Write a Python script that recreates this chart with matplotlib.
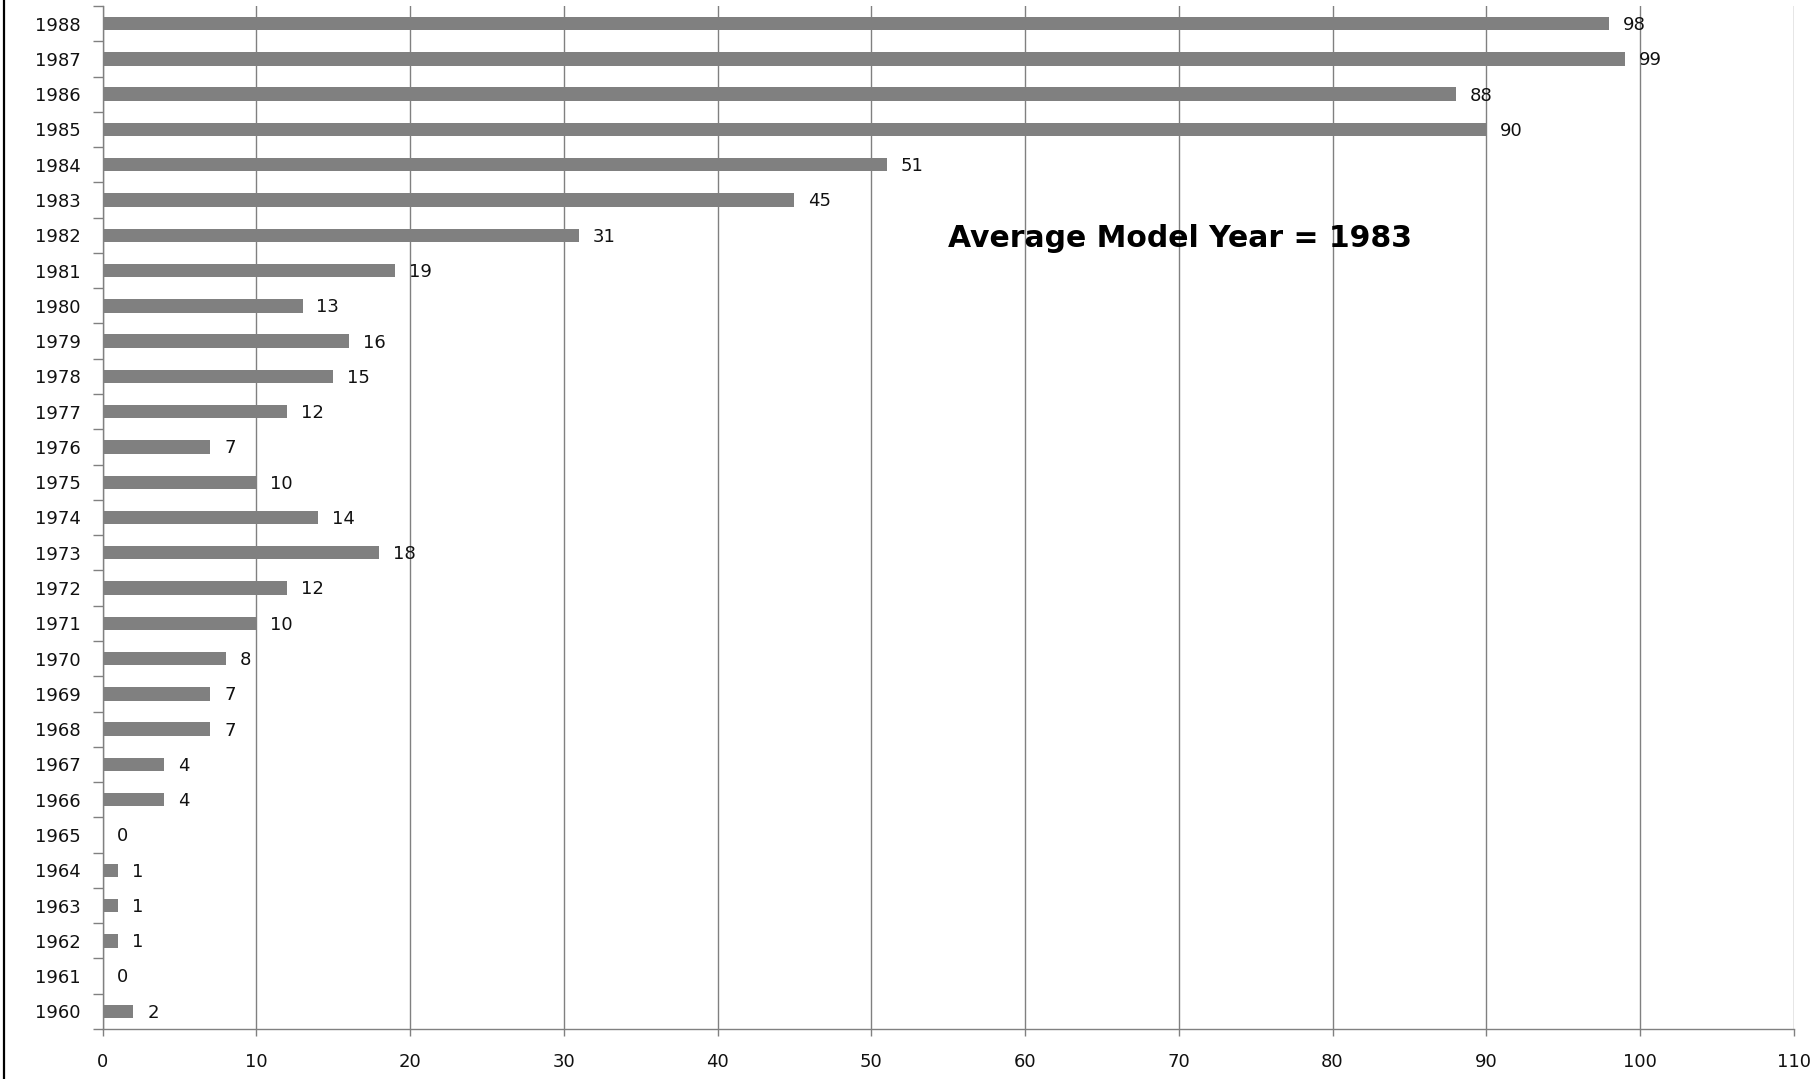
import matplotlib.pyplot as plt
import numpy as np
from matplotlib.lines import Line2D

years = list(range(1960, 1989))
counts = [2, 0, 1, 1, 1, 0, 4, 4, 7, 7, 8, 10, 12, 18, 14, 10, 7, 12, 15, 16,
          13, 19, 31, 45, 51, 90, 88, 99, 98]
xticks = list(range(0, 111, 10))
note = "Average Model Year = 1983"

grey = '#808080'

fig = plt.figure(figsize=(18.17, 10.79), dpi=100)
ax = fig.add_axes([102.7 / 1817, 1 - 1029 / 1079, (1793.7 - 102.7) / 1817, (1029 - 6) / 1079])

ax.barh(years, counts, height=0.38, color=grey, zorder=3)

for y, v in zip(years, counts):
    ax.annotate(str(v), (v, y), xytext=(10, -1), textcoords='offset points',
                va='center', ha='left', fontsize=13, color='#111111', zorder=4)

ax.set_xlim(0, 110)
ax.set_ylim(1959.5, 1988.5)
ax.set_xticks(xticks)
ax.set_yticks(years)
ax.set_yticks(np.arange(1959.5, 1989, 1), minor=True)
ax.tick_params(axis='y', which='major', length=0, pad=16, labelsize=13, labelcolor='#111111')
ax.tick_params(axis='y', which='minor', length=7, width=1, color=grey)
ax.tick_params(axis='x', which='major', length=5, width=1, color=grey, pad=12,
               labelsize=13, labelcolor='#111111')

ax.grid(axis='x', color=grey, linewidth=1, zorder=0)
for s in ['top', 'right']:
    ax.spines[s].set_visible(False)
for s in ['left', 'bottom']:
    ax.spines[s].set_color(grey)
    ax.spines[s].set_linewidth(1)

ax.text(70.1, 1981.9, note, ha='center', va='center', fontsize=21.5,
        fontweight='bold', family=['DejaVu Sans'], color='black')

fig.add_artist(Line2D([4 / 1817, 4 / 1817], [0, 1], color='black', linewidth=1.6,
                      transform=fig.transFigure))

fig.savefig('out.png', dpi=100)
